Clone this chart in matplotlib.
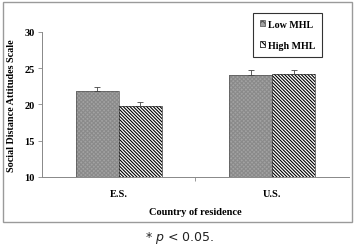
import matplotlib.pyplot as plt
import matplotlib.patches as mpatches
import numpy as np

countries = ["E.S.", "U.S."]
low_mhl = [21.8, 24.0]
low_err = [0.6, 0.7]
high_mhl = [19.8, 24.2]
high_err = [0.5, 0.6]

plt.rcParams['font.family'] = ['Liberation Serif']
plt.rcParams['hatch.linewidth'] = 0.8
plt.rcParams['mathtext.fontset'] = 'dejavusans'

fig = plt.figure(figsize=(3.55, 2.51), dpi=100)
ax = fig.add_axes([0.118, 0.291, 0.865, 0.578])

# outer frame
fig.patches.append(mpatches.Rectangle((0.0085, 0.112), 0.983, 0.876, transform=fig.transFigure,
                                      fill=False, edgecolor='#9a9a9a', linewidth=1.0))

x = np.arange(len(countries))
w = 0.28
low_hatch = 'xxxxxxxx'
high_hatch = '\\' * 10
# low MHL: gray dotted pattern
ax.bar(x - w / 2, low_mhl, w, color='#a2a2a2', hatch=low_hatch, edgecolor='#8a8a8a', linewidth=0)
ax.bar(x - w / 2, low_mhl, w, fill=False, edgecolor='#555555', linewidth=0.5)
# high MHL: diagonal stripes
ax.bar(x + w / 2, high_mhl, w, color='white', hatch=high_hatch, edgecolor='black', linewidth=0)
ax.bar(x + w / 2, high_mhl, w, fill=False, edgecolor='#333333', linewidth=0.5)

ax.errorbar(x - w / 2, low_mhl, yerr=[[0, 0], low_err], fmt='none', ecolor='#444444', elinewidth=0.6, capsize=2, capthick=0.6)
ax.errorbar(x + w / 2, high_mhl, yerr=[[0, 0], high_err], fmt='none', ecolor='#444444', elinewidth=0.6, capsize=2, capthick=0.6)

ax.set_ylim(10, 30)
ax.set_xlim(-0.5, 1.5)
ax.set_yticks([10, 15, 20, 25, 30])
ax.set_xticks(x)
ax.set_xticklabels(countries, fontweight='bold')
ax.set_yticklabels([10, 15, 20, 25, 30], fontweight='bold')
ax.set_xticks([0.5], minor=True)
ax.tick_params(axis='x', which='major', length=0, labelsize=7.5, pad=9)
ax.tick_params(axis='x', which='minor', length=3, color='#888888', width=0.6)
ax.tick_params(axis='y', length=3, color='#888888', width=0.6, labelsize=7.5, pad=2)
for s in ['top', 'right']:
    ax.spines[s].set_visible(False)
for s in ['left', 'bottom']:
    ax.spines[s].set_color('#888888')
    ax.spines[s].set_linewidth(0.7)

ax.set_ylabel("Social Distance Attitudes Scale", fontsize=7.3, fontweight='bold', labelpad=6)
ax.set_xlabel("Country of residence", fontsize=7.5, fontweight='bold', labelpad=6)

handles = [mpatches.Patch(facecolor='#a2a2a2', hatch='xxxx', edgecolor='#555555', linewidth=0.5),
           mpatches.Patch(facecolor='white', hatch='\\\\\\\\\\', edgecolor='black', linewidth=0.5)]
leg = fig.legend(handles, ["Low MHL", "High MHL"], loc='upper right', bbox_to_anchor=(0.907, 0.946),
                 prop={'size': 7.2, 'weight': 'bold'}, frameon=True, fancybox=False, edgecolor='black',
                 handlelength=0.5, handleheight=0.5, handletextpad=0.3, labelspacing=1.2,
                 borderpad=0.7, borderaxespad=0)
leg.get_frame().set_linewidth(0.8)

fig.text(0.505, 0.05, "* $\\mathit{p}$ < 0.05.", ha='center', va='center', fontsize=9,
         family='DejaVu Sans', color='#222222')

fig.savefig("out.png", dpi=100)
